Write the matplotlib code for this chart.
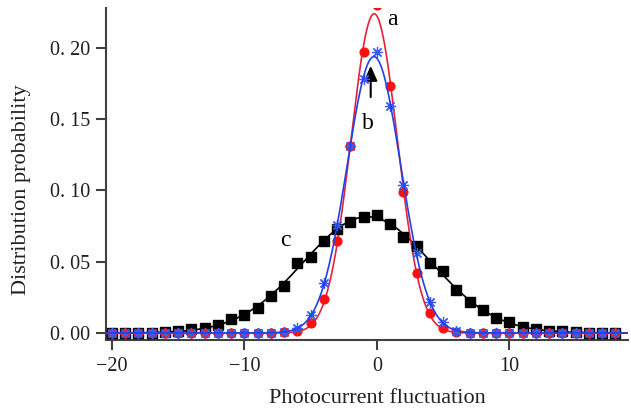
import numpy as np
import matplotlib
matplotlib.use('Agg')
import matplotlib.pyplot as plt

plt.rcParams['font.family'] = ['Liberation Serif', 'DejaVu Serif']

x = np.arange(-20, 19)

# curve c (black squares)
c_vals = [0, 0, 0, 0, 0.0005, 0.001, 0.003, 0.0037, 0.0054, 0.0096, 0.0126,
          0.0178, 0.026, 0.033, 0.049, 0.0536, 0.0648, 0.0728, 0.078, 0.0817,
          0.0826, 0.0763, 0.0676, 0.061, 0.049, 0.0435, 0.030, 0.022, 0.016,
          0.0108, 0.0077, 0.004, 0.003, 0.0014, 0.001, 0.0005, 0, 0, 0]

# curve a (red dots)
a_vals = [0, 0, 0, 0, 0, 0, 0, 0, 0, 0, 0, 0, 0, 0.0003, 0.0016, 0.0072,
          0.0236, 0.0648, 0.131, 0.197, 0.23, 0.173, 0.0992, 0.0424, 0.0138,
          0.0037, 0.0005, 0, 0, 0, 0, 0, 0, 0, 0, 0, 0, 0, 0]

# curve b (blue asterisks)
b_vals = [0, 0, 0, 0, 0, 0, 0, 0, 0, 0, 0, 0, 0, 0.0005, 0.0037, 0.0126,
          0.0353, 0.0758, 0.131, 0.178, 0.1975, 0.159, 0.104, 0.056, 0.022,
          0.008, 0.0016, 0.0002, 0, 0, 0, 0, 0, 0, 0, 0, 0, 0, 0]

x_ticks = [-20, -10, 0, 10]
x_ticklabels = ['\u221220', '\u221210', '0', '10']
y_ticks = [0.0, 0.05, 0.10, 0.15, 0.20]
y_ticklabels = ['0. 00', '0. 05', '0. 10', '0. 15', '0. 20']


def gauss_fit(xs, ys):
    # gaussian fit: quadratic in log(y), weighted by y
    xs = np.asarray(xs, float)
    ys = np.asarray(ys, float)
    m = ys > 0.001
    return np.polyfit(xs[m], np.log(ys[m]), 2, w=ys[m])


xf = np.linspace(-20.5, 19, 800)

fig = plt.figure(figsize=(6.31, 4.13), dpi=100)
ax = fig.add_axes([0.168, 0.177, 0.827, 0.804])

for vals, col in [(c_vals, 'black'), (a_vals, '#e8203a')]:
    p = gauss_fit(x, vals)
    ax.plot(xf, np.exp(np.polyval(p, xf)), color=col, lw=1.2, zorder=2)

ax.plot(x, c_vals, 's', color='black', ms=6.5, zorder=3, ls='none')
ax.plot(x, a_vals, 'o', color='#ff1010', ms=6.3, zorder=4, ls='none')
ax.plot(x, b_vals, marker=(8, 2, 0), color='#3a5cf0', ms=8, mew=0.9,
        zorder=5, ls='none')
p = gauss_fit(x, b_vals)
ax.plot(xf, np.exp(np.polyval(p, xf)), color='#2040e8', lw=1.2, zorder=6)

ax.annotate('', xy=(-0.47, 0.1895), xytext=(-0.47, 0.1636),
            arrowprops=dict(arrowstyle='-|>,head_width=0.4,head_length=0.9',
                            color='black', lw=1.5))
ax.text(1.2, 0.22, 'a', fontsize=17, ha='center', va='center')
ax.text(-0.68, 0.147, 'b', fontsize=17, ha='center', va='center')
ax.text(-6.94, 0.065, 'c', fontsize=17, ha='center', va='center')

ax.set_xlim(-20.45, 18.94)
ax.set_ylim(-0.0049, 0.2282)
ax.set_xticks(x_ticks)
ax.set_xticklabels(x_ticklabels)
ax.set_yticks(y_ticks)
ax.set_yticklabels(y_ticklabels)

for s in ['top', 'right']:
    ax.spines[s].set_visible(False)
for s in ['left', 'bottom']:
    ax.spines[s].set_color('#404040')
    ax.spines[s].set_linewidth(1.5)
ax.tick_params(direction='out', length=7.5, width=1.5, color='#404040',
               labelsize=14.5, labelcolor='#202020')
ax.tick_params(axis='y', pad=4)
ax.tick_params(axis='x', pad=5)

ax.set_xlabel('Photocurrent fluctuation', fontsize=16, color='#202020',
              va='center', ha='center')
ax.set_ylabel('Distribution probability', fontsize=16, color='#202020',
              va='center', ha='center')
ax.xaxis.set_label_coords(0.52, -0.175)
ax.yaxis.set_label_coords(-0.161, 0.452)

fig.savefig('out.png', dpi=100)
